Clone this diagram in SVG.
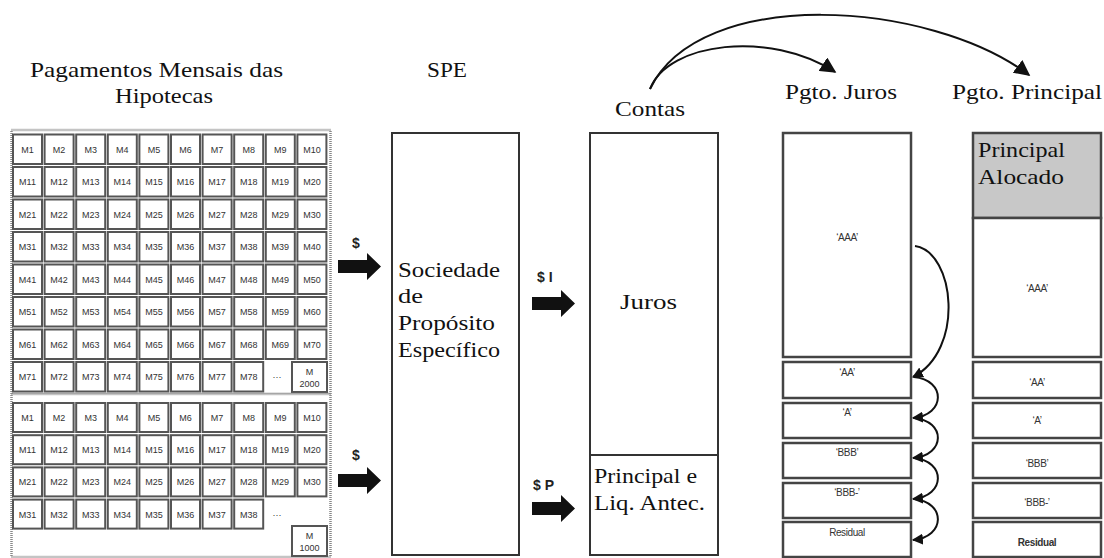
<svg xmlns="http://www.w3.org/2000/svg" width="1104" height="558" viewBox="0 0 1104 558">
<style>
text.serif{font-family:'Liberation Serif','DejaVu Serif',serif;fill:#111;}
.c{fill:#fff;stroke:#555;stroke-width:2;}
.ct{font-family:'Liberation Sans',Arial,sans-serif;font-size:9px;fill:#333;text-anchor:middle;}
.frame{fill:#fff;stroke:#888;stroke-width:2.5;stroke-dasharray:1 1;}
.box{fill:#fff;stroke:#333;stroke-width:2;}
.tb{fill:#fff;stroke:#444;stroke-width:2.5;}
.lab{font-family:'Liberation Sans',Arial,sans-serif;font-size:10px;fill:#333;text-anchor:middle;letter-spacing:-0.4px;}
.dol{font-family:'Liberation Sans',Arial,sans-serif;font-size:14px;font-weight:bold;fill:#222;}
.blk{fill:#111;}
.cur{fill:none;stroke:#111;stroke-width:2;}
</style>
<defs>
<marker id="ah" viewBox="0 0 10 10" refX="9" refY="5" markerWidth="16" markerHeight="16" markerUnits="userSpaceOnUse" orient="auto">
<path d="M0,0 L10,5 L0,10 Z" fill="#111"/>
</marker>
<marker id="as" viewBox="0 0 10 10" refX="9" refY="5" markerWidth="11" markerHeight="11" markerUnits="userSpaceOnUse" orient="auto">
<path d="M0,0 L10,5 L0,10 Z" fill="#111"/>
</marker>
</defs>
<rect width="1104" height="558" fill="#fff"/>

<g id="titles">
<text class="serif" x="30" y="77" font-size="22" textLength="253" lengthAdjust="spacingAndGlyphs">Pagamentos Mensais das</text>
<text class="serif" x="115" y="103" font-size="22" textLength="98" lengthAdjust="spacingAndGlyphs">Hipotecas</text>
<text class="serif" x="427" y="77" font-size="21" textLength="40" lengthAdjust="spacingAndGlyphs">SPE</text>
<text class="serif" x="615" y="116" font-size="22" textLength="70" lengthAdjust="spacingAndGlyphs">Contas</text>
<text class="serif" x="785" y="99" font-size="21" textLength="112" lengthAdjust="spacingAndGlyphs">Pgto. Juros</text>
<text class="serif" x="952" y="99" font-size="21" textLength="150" lengthAdjust="spacingAndGlyphs">Pgto. Principal</text>
</g>

<g id="grid-top">
<rect class="frame" x="11.5" y="130" width="319" height="264"/>
<g id="cells-top">
<rect class="c" x="13" y="134.5" width="29" height="29.5"/><rect class="c" x="44.6" y="134.5" width="29" height="29.5"/><rect class="c" x="76.2" y="134.5" width="29" height="29.5"/><rect class="c" x="107.8" y="134.5" width="29" height="29.5"/><rect class="c" x="139.4" y="134.5" width="29" height="29.5"/><rect class="c" x="171" y="134.5" width="29" height="29.5"/><rect class="c" x="202.6" y="134.5" width="29" height="29.5"/><rect class="c" x="234.2" y="134.5" width="29" height="29.5"/><rect class="c" x="265.8" y="134.5" width="29" height="29.5"/><rect class="c" x="297.4" y="134.5" width="29" height="29.5"/>
<rect class="c" x="13" y="167" width="29" height="29.5"/><rect class="c" x="44.6" y="167" width="29" height="29.5"/><rect class="c" x="76.2" y="167" width="29" height="29.5"/><rect class="c" x="107.8" y="167" width="29" height="29.5"/><rect class="c" x="139.4" y="167" width="29" height="29.5"/><rect class="c" x="171" y="167" width="29" height="29.5"/><rect class="c" x="202.6" y="167" width="29" height="29.5"/><rect class="c" x="234.2" y="167" width="29" height="29.5"/><rect class="c" x="265.8" y="167" width="29" height="29.5"/><rect class="c" x="297.4" y="167" width="29" height="29.5"/>
<rect class="c" x="13" y="199.5" width="29" height="29.5"/><rect class="c" x="44.6" y="199.5" width="29" height="29.5"/><rect class="c" x="76.2" y="199.5" width="29" height="29.5"/><rect class="c" x="107.8" y="199.5" width="29" height="29.5"/><rect class="c" x="139.4" y="199.5" width="29" height="29.5"/><rect class="c" x="171" y="199.5" width="29" height="29.5"/><rect class="c" x="202.6" y="199.5" width="29" height="29.5"/><rect class="c" x="234.2" y="199.5" width="29" height="29.5"/><rect class="c" x="265.8" y="199.5" width="29" height="29.5"/><rect class="c" x="297.4" y="199.5" width="29" height="29.5"/>
<rect class="c" x="13" y="232" width="29" height="29.5"/><rect class="c" x="44.6" y="232" width="29" height="29.5"/><rect class="c" x="76.2" y="232" width="29" height="29.5"/><rect class="c" x="107.8" y="232" width="29" height="29.5"/><rect class="c" x="139.4" y="232" width="29" height="29.5"/><rect class="c" x="171" y="232" width="29" height="29.5"/><rect class="c" x="202.6" y="232" width="29" height="29.5"/><rect class="c" x="234.2" y="232" width="29" height="29.5"/><rect class="c" x="265.8" y="232" width="29" height="29.5"/><rect class="c" x="297.4" y="232" width="29" height="29.5"/>
<rect class="c" x="13" y="264.5" width="29" height="29.5"/><rect class="c" x="44.6" y="264.5" width="29" height="29.5"/><rect class="c" x="76.2" y="264.5" width="29" height="29.5"/><rect class="c" x="107.8" y="264.5" width="29" height="29.5"/><rect class="c" x="139.4" y="264.5" width="29" height="29.5"/><rect class="c" x="171" y="264.5" width="29" height="29.5"/><rect class="c" x="202.6" y="264.5" width="29" height="29.5"/><rect class="c" x="234.2" y="264.5" width="29" height="29.5"/><rect class="c" x="265.8" y="264.5" width="29" height="29.5"/><rect class="c" x="297.4" y="264.5" width="29" height="29.5"/>
<rect class="c" x="13" y="297" width="29" height="29.5"/><rect class="c" x="44.6" y="297" width="29" height="29.5"/><rect class="c" x="76.2" y="297" width="29" height="29.5"/><rect class="c" x="107.8" y="297" width="29" height="29.5"/><rect class="c" x="139.4" y="297" width="29" height="29.5"/><rect class="c" x="171" y="297" width="29" height="29.5"/><rect class="c" x="202.6" y="297" width="29" height="29.5"/><rect class="c" x="234.2" y="297" width="29" height="29.5"/><rect class="c" x="265.8" y="297" width="29" height="29.5"/><rect class="c" x="297.4" y="297" width="29" height="29.5"/>
<rect class="c" x="13" y="329.5" width="29" height="29.5"/><rect class="c" x="44.6" y="329.5" width="29" height="29.5"/><rect class="c" x="76.2" y="329.5" width="29" height="29.5"/><rect class="c" x="107.8" y="329.5" width="29" height="29.5"/><rect class="c" x="139.4" y="329.5" width="29" height="29.5"/><rect class="c" x="171" y="329.5" width="29" height="29.5"/><rect class="c" x="202.6" y="329.5" width="29" height="29.5"/><rect class="c" x="234.2" y="329.5" width="29" height="29.5"/><rect class="c" x="265.8" y="329.5" width="29" height="29.5"/><rect class="c" x="297.4" y="329.5" width="29" height="29.5"/>
<rect class="c" x="13" y="362" width="29" height="29.5"/><rect class="c" x="44.6" y="362" width="29" height="29.5"/><rect class="c" x="76.2" y="362" width="29" height="29.5"/><rect class="c" x="107.8" y="362" width="29" height="29.5"/><rect class="c" x="139.4" y="362" width="29" height="29.5"/><rect class="c" x="171" y="362" width="29" height="29.5"/><rect class="c" x="202.6" y="362" width="29" height="29.5"/><rect class="c" x="234.2" y="362" width="29" height="29.5"/><rect class="c" x="292" y="362" width="35" height="30"/>
</g>
<g id="labels-top">
<text class="ct" x="27.5" y="152.5">M1</text><text class="ct" x="59.1" y="152.5">M2</text><text class="ct" x="90.7" y="152.5">M3</text><text class="ct" x="122.3" y="152.5">M4</text><text class="ct" x="153.9" y="152.5">M5</text><text class="ct" x="185.5" y="152.5">M6</text><text class="ct" x="217.1" y="152.5">M7</text><text class="ct" x="248.7" y="152.5">M8</text><text class="ct" x="280.3" y="152.5">M9</text><text class="ct" x="311.9" y="152.5">M10</text>
<text class="ct" x="27.5" y="185">M11</text><text class="ct" x="59.1" y="185">M12</text><text class="ct" x="90.7" y="185">M13</text><text class="ct" x="122.3" y="185">M14</text><text class="ct" x="153.9" y="185">M15</text><text class="ct" x="185.5" y="185">M16</text><text class="ct" x="217.1" y="185">M17</text><text class="ct" x="248.7" y="185">M18</text><text class="ct" x="280.3" y="185">M19</text><text class="ct" x="311.9" y="185">M20</text>
<text class="ct" x="27.5" y="217.5">M21</text><text class="ct" x="59.1" y="217.5">M22</text><text class="ct" x="90.7" y="217.5">M23</text><text class="ct" x="122.3" y="217.5">M24</text><text class="ct" x="153.9" y="217.5">M25</text><text class="ct" x="185.5" y="217.5">M26</text><text class="ct" x="217.1" y="217.5">M27</text><text class="ct" x="248.7" y="217.5">M28</text><text class="ct" x="280.3" y="217.5">M29</text><text class="ct" x="311.9" y="217.5">M30</text>
<text class="ct" x="27.5" y="250">M31</text><text class="ct" x="59.1" y="250">M32</text><text class="ct" x="90.7" y="250">M33</text><text class="ct" x="122.3" y="250">M34</text><text class="ct" x="153.9" y="250">M35</text><text class="ct" x="185.5" y="250">M36</text><text class="ct" x="217.1" y="250">M37</text><text class="ct" x="248.7" y="250">M38</text><text class="ct" x="280.3" y="250">M39</text><text class="ct" x="311.9" y="250">M40</text>
<text class="ct" x="27.5" y="282.5">M41</text><text class="ct" x="59.1" y="282.5">M42</text><text class="ct" x="90.7" y="282.5">M43</text><text class="ct" x="122.3" y="282.5">M44</text><text class="ct" x="153.9" y="282.5">M45</text><text class="ct" x="185.5" y="282.5">M46</text><text class="ct" x="217.1" y="282.5">M47</text><text class="ct" x="248.7" y="282.5">M48</text><text class="ct" x="280.3" y="282.5">M49</text><text class="ct" x="311.9" y="282.5">M50</text>
<text class="ct" x="27.5" y="315">M51</text><text class="ct" x="59.1" y="315">M52</text><text class="ct" x="90.7" y="315">M53</text><text class="ct" x="122.3" y="315">M54</text><text class="ct" x="153.9" y="315">M55</text><text class="ct" x="185.5" y="315">M56</text><text class="ct" x="217.1" y="315">M57</text><text class="ct" x="248.7" y="315">M58</text><text class="ct" x="280.3" y="315">M59</text><text class="ct" x="311.9" y="315">M60</text>
<text class="ct" x="27.5" y="347.5">M61</text><text class="ct" x="59.1" y="347.5">M62</text><text class="ct" x="90.7" y="347.5">M63</text><text class="ct" x="122.3" y="347.5">M64</text><text class="ct" x="153.9" y="347.5">M65</text><text class="ct" x="185.5" y="347.5">M66</text><text class="ct" x="217.1" y="347.5">M67</text><text class="ct" x="248.7" y="347.5">M68</text><text class="ct" x="280.3" y="347.5">M69</text><text class="ct" x="311.9" y="347.5">M70</text>
<text class="ct" x="27.5" y="380">M71</text><text class="ct" x="59.1" y="380">M72</text><text class="ct" x="90.7" y="380">M73</text><text class="ct" x="122.3" y="380">M74</text><text class="ct" x="153.9" y="380">M75</text><text class="ct" x="185.5" y="380">M76</text><text class="ct" x="217.1" y="380">M77</text><text class="ct" x="248.7" y="380">M78</text><text class="ct" x="277" y="380">···</text>
<text class="ct" x="309.5" y="375">M</text><text class="ct" x="309.5" y="387">2000</text>
</g>
</g>

<g id="grid-bottom">
<rect class="frame" x="11.5" y="394" width="319" height="163"/>
<g id="cells-bottom">
<rect class="c" x="13" y="403" width="29" height="29"/><rect class="c" x="44.6" y="403" width="29" height="29"/><rect class="c" x="76.2" y="403" width="29" height="29"/><rect class="c" x="107.8" y="403" width="29" height="29"/><rect class="c" x="139.4" y="403" width="29" height="29"/><rect class="c" x="171" y="403" width="29" height="29"/><rect class="c" x="202.6" y="403" width="29" height="29"/><rect class="c" x="234.2" y="403" width="29" height="29"/><rect class="c" x="265.8" y="403" width="29" height="29"/><rect class="c" x="297.4" y="403" width="29" height="29"/>
<rect class="c" x="13" y="435.2" width="29" height="29"/><rect class="c" x="44.6" y="435.2" width="29" height="29"/><rect class="c" x="76.2" y="435.2" width="29" height="29"/><rect class="c" x="107.8" y="435.2" width="29" height="29"/><rect class="c" x="139.4" y="435.2" width="29" height="29"/><rect class="c" x="171" y="435.2" width="29" height="29"/><rect class="c" x="202.6" y="435.2" width="29" height="29"/><rect class="c" x="234.2" y="435.2" width="29" height="29"/><rect class="c" x="265.8" y="435.2" width="29" height="29"/><rect class="c" x="297.4" y="435.2" width="29" height="29"/>
<rect class="c" x="13" y="467.4" width="29" height="29"/><rect class="c" x="44.6" y="467.4" width="29" height="29"/><rect class="c" x="76.2" y="467.4" width="29" height="29"/><rect class="c" x="107.8" y="467.4" width="29" height="29"/><rect class="c" x="139.4" y="467.4" width="29" height="29"/><rect class="c" x="171" y="467.4" width="29" height="29"/><rect class="c" x="202.6" y="467.4" width="29" height="29"/><rect class="c" x="234.2" y="467.4" width="29" height="29"/><rect class="c" x="265.8" y="467.4" width="29" height="29"/><rect class="c" x="297.4" y="467.4" width="29" height="29"/>
<rect class="c" x="13" y="499.6" width="29" height="29"/><rect class="c" x="44.6" y="499.6" width="29" height="29"/><rect class="c" x="76.2" y="499.6" width="29" height="29"/><rect class="c" x="107.8" y="499.6" width="29" height="29"/><rect class="c" x="139.4" y="499.6" width="29" height="29"/><rect class="c" x="171" y="499.6" width="29" height="29"/><rect class="c" x="202.6" y="499.6" width="29" height="29"/><rect class="c" x="234.2" y="499.6" width="29" height="29"/>
<rect class="c" x="292" y="526" width="35" height="30"/>
</g>
<g id="labels-bottom">
<text class="ct" x="27.5" y="421">M1</text><text class="ct" x="59.1" y="421">M2</text><text class="ct" x="90.7" y="421">M3</text><text class="ct" x="122.3" y="421">M4</text><text class="ct" x="153.9" y="421">M5</text><text class="ct" x="185.5" y="421">M6</text><text class="ct" x="217.1" y="421">M7</text><text class="ct" x="248.7" y="421">M8</text><text class="ct" x="280.3" y="421">M9</text><text class="ct" x="311.9" y="421">M10</text>
<text class="ct" x="27.5" y="453.2">M11</text><text class="ct" x="59.1" y="453.2">M12</text><text class="ct" x="90.7" y="453.2">M13</text><text class="ct" x="122.3" y="453.2">M14</text><text class="ct" x="153.9" y="453.2">M15</text><text class="ct" x="185.5" y="453.2">M16</text><text class="ct" x="217.1" y="453.2">M17</text><text class="ct" x="248.7" y="453.2">M18</text><text class="ct" x="280.3" y="453.2">M19</text><text class="ct" x="311.9" y="453.2">M20</text>
<text class="ct" x="27.5" y="485.4">M21</text><text class="ct" x="59.1" y="485.4">M22</text><text class="ct" x="90.7" y="485.4">M23</text><text class="ct" x="122.3" y="485.4">M24</text><text class="ct" x="153.9" y="485.4">M25</text><text class="ct" x="185.5" y="485.4">M26</text><text class="ct" x="217.1" y="485.4">M27</text><text class="ct" x="248.7" y="485.4">M28</text><text class="ct" x="280.3" y="485.4">M29</text><text class="ct" x="311.9" y="485.4">M30</text>
<text class="ct" x="27.5" y="517.6">M31</text><text class="ct" x="59.1" y="517.6">M32</text><text class="ct" x="90.7" y="517.6">M33</text><text class="ct" x="122.3" y="517.6">M34</text><text class="ct" x="153.9" y="517.6">M35</text><text class="ct" x="185.5" y="517.6">M36</text><text class="ct" x="217.1" y="517.6">M37</text><text class="ct" x="248.7" y="517.6">M38</text><text class="ct" x="277" y="517.6">···</text>
<text class="ct" x="309.5" y="539">M</text><text class="ct" x="309.5" y="551">1000</text>
</g>
</g>

<g id="spe">
<rect class="box" x="392" y="133" width="127" height="422"/>
<text class="serif" x="398" y="277" font-size="22" textLength="102" lengthAdjust="spacingAndGlyphs">Sociedade</text>
<text class="serif" x="398" y="303" font-size="22" textLength="25" lengthAdjust="spacingAndGlyphs">de</text>
<text class="serif" x="398" y="330" font-size="22" textLength="97" lengthAdjust="spacingAndGlyphs">Propósito</text>
<text class="serif" x="398" y="357" font-size="22" textLength="102" lengthAdjust="spacingAndGlyphs">Específico</text>
</g>

<g id="contas">
<rect class="box" x="590" y="133" width="128" height="422"/>
<line x1="590" y1="455" x2="718" y2="455" stroke="#333" stroke-width="2"/>
<text class="serif" x="620" y="309" font-size="21" textLength="57" lengthAdjust="spacingAndGlyphs">Juros</text>
<text class="serif" x="594" y="483" font-size="21" textLength="103" lengthAdjust="spacingAndGlyphs">Principal e</text>
<text class="serif" x="594" y="510" font-size="21" textLength="111" lengthAdjust="spacingAndGlyphs">Liq. Antec.</text>
</g>

<g id="pgto-juros">
<rect class="tb" x="783" y="133" width="128" height="224"/>
<rect class="tb" x="783" y="362" width="128" height="36"/>
<rect class="tb" x="783" y="403" width="128" height="35"/>
<rect class="tb" x="783" y="443" width="128" height="35"/>
<rect class="tb" x="783" y="483" width="128" height="35"/>
<rect class="tb" x="783" y="522" width="128" height="35"/>
<text class="lab" x="847" y="241">‘AAA’</text>
<text class="lab" x="847" y="376">‘AA’</text>
<text class="lab" x="847" y="416">‘A’</text>
<text class="lab" x="847" y="456">‘BBB’</text>
<text class="lab" x="847" y="496">‘BBB-’</text>
<text class="lab" x="847" y="536">Residual</text>
</g>

<g id="pgto-principal">
<rect class="tb" x="973" y="133" width="128" height="85" style="fill:#c8c8c8"/>
<rect class="tb" x="973" y="218" width="128" height="139"/>
<rect class="tb" x="973" y="362" width="128" height="36"/>
<rect class="tb" x="973" y="403" width="128" height="35"/>
<rect class="tb" x="973" y="443" width="128" height="35"/>
<rect class="tb" x="973" y="483" width="128" height="35"/>
<rect class="tb" x="973" y="522" width="128" height="35"/>
<text class="serif" x="978" y="157" font-size="22" textLength="87" lengthAdjust="spacingAndGlyphs">Principal</text>
<text class="serif" x="978" y="184" font-size="22" textLength="86" lengthAdjust="spacingAndGlyphs">Alocado</text>
<text class="lab" x="1037" y="292">‘AAA’</text>
<text class="lab" x="1037" y="386">‘AA’</text>
<text class="lab" x="1037" y="424">‘A’</text>
<text class="lab" x="1037" y="467">‘BBB’</text>
<text class="lab" x="1037" y="506">‘BBB-’</text>
<text class="lab" x="1037" y="546" font-weight="bold">Residual</text>
</g>

<g id="connectors">
<text class="dol" x="352" y="248">$</text>
<path class="blk" d="M338,260 L367,260 L367,253 L381,266.5 L367,280 L367,273 L338,273 Z"/>
<text class="dol" x="352" y="460">$</text>
<path class="blk" d="M338,474 L367,474 L367,467 L381,480.5 L367,494 L367,487 L338,487 Z"/>
<text class="dol" x="537" y="282">$ I</text>
<path class="blk" d="M532,297 L561,297 L561,290 L575,303.5 L561,317 L561,310 L532,310 Z"/>
<text class="dol" x="533" y="490">$ P</text>
<path class="blk" d="M532,502 L561,502 L561,495 L575,508.5 L561,522 L561,515 L532,515 Z"/>
<path class="cur" d="M650,89 C668,42 770,30 835,72" marker-end="url(#ah)"/>
<path class="cur" d="M650,89 C700,-15 930,0 1029,75" marker-end="url(#ah)"/>
<path class="cur" d="M915,246 C955,252 965,350 913,377" marker-end="url(#as)"/>
<path class="cur" d="M914,377 C946,380 946,415 913,418" marker-end="url(#as)"/>
<path class="cur" d="M914,418 C946,421 946,455 913,458" marker-end="url(#as)"/>
<path class="cur" d="M914,458 C946,461 946,496 913,499" marker-end="url(#as)"/>
<path class="cur" d="M914,499 C946,502 946,537 913,540" marker-end="url(#as)"/>
</g>
</svg>
